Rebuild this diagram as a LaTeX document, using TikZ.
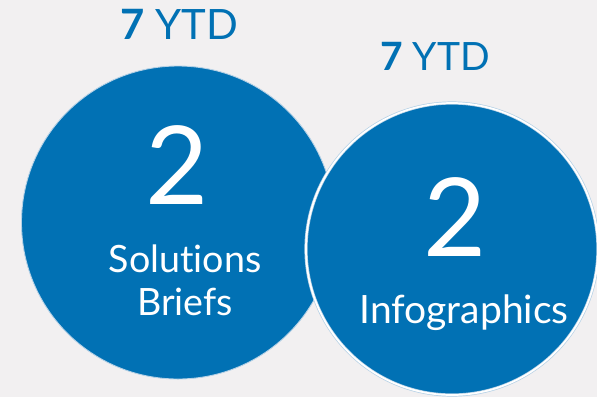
\documentclass[tikz,border=0pt]{standalone}
\usepackage{fontspec}
\setmainfont[Ligatures=NoCommon]{Lato}
\usepackage{xcolor}
\usepackage{tikz}
\usetikzlibrary{positioning}
\definecolor{pageGray}{HTML}{F2F0F1}
\definecolor{reportBlue}{HTML}{0171B4}
\definecolor{ringBlue}{HTML}{B5D1E6}
\tikzset{
    bubble/.style={circle, fill=reportBlue, draw=ringBlue, line width=0.25pt, inner sep=0pt},
    ringBubble/.style={bubble, line width=0.2pt, double=white, double distance=0.5pt},
    ytd/.style={anchor=base, text=reportBlue, inner sep=0pt},
    count/.style={anchor=base, text=white, inner sep=0pt, font=\fontsize{31}{31}\selectfont},
    caption/.style={anchor=base, text=white, inner sep=0pt}
}

\begin{document}
\begin{tikzpicture}
    % Page
    \useasboundingbox (0,0) rectangle (5.97,3.97);
    \fill[pageGray] (0,0) rectangle (5.97,3.97);

    % Circles
    \node[bubble, minimum size=3.13cm] (briefs) at (1.78,1.745) {};
    \node[ringBubble, minimum size=2.92cm] (infographics) at (4.52,1.48) {};

    % Year to date
    \node[ytd, font=\fontsize{11.9}{12}\selectfont] (briefsYtd) at (1.795,3.58) {\textbf{7} YTD};
    \node[ytd, font=\fontsize{11.1}{12}\selectfont] (infoYtd) at (4.35,3.27) {\textbf{7} YTD};

    % Counts
    \node[count] (briefsCount) at (1.77,1.93) {2};
    \node[count] (infoCount) at (4.55,1.41) {2};

    % Captions
    \node[caption, font=\fontsize{10.7}{12}\selectfont] (briefsTop) at (1.85,1.25) {Solutions};
    \node[caption, font=\fontsize{10.7}{12}\selectfont] (briefsBot) at (1.85,0.82) {Briefs};
    \node[caption, font=\fontsize{11.1}{12}\selectfont] (infoLabel) at (4.64,0.74) {Infographics};
\end{tikzpicture}
\end{document}
